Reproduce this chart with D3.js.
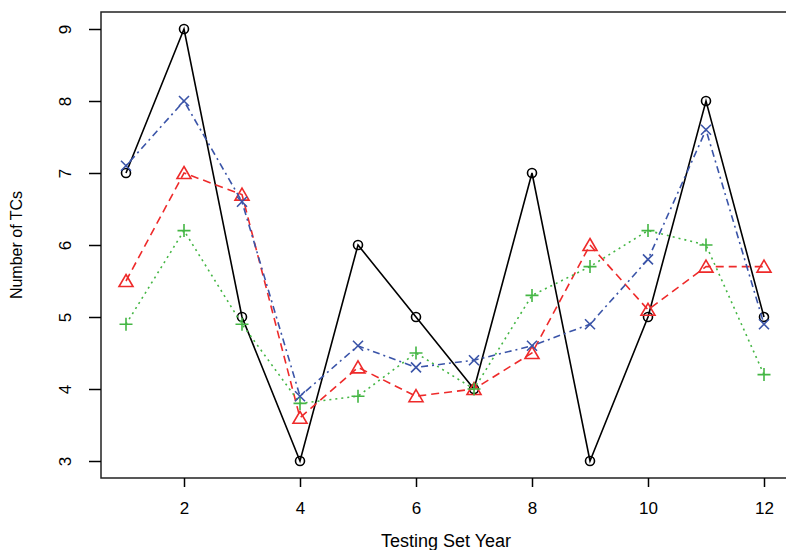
<!DOCTYPE html>
<html><head><meta charset="utf-8">
<script src="https://cdn.jsdelivr.net/npm/d3@7"></script>
<style>body{margin:0;background:#fff}svg{display:block}text{font-family:"Liberation Sans",Arial,sans-serif}</style>
</head><body>
<svg id="c" width="786" height="550"></svg>
<script>
const years = [1,2,3,4,5,6,7,8,9,10,11,12];
const observed = [7,9,5,3,6,5,4,7,3,5,8,5];
const modelBlue = [7.1,8,6.6,3.9,4.6,4.3,4.4,4.6,4.9,5.8,7.6,4.9];
const modelRed = [5.5,7,6.7,3.6,4.3,3.9,4.0,4.5,6.0,5.1,5.7,5.7];
const modelGreen = [4.9,6.2,4.9,3.8,3.9,4.5,4.0,5.3,5.7,6.2,6.0,4.2];
const xTicks = [2,4,6,8,10,12];
const yTicks = [3,4,5,6,7,8,9];

const svg = d3.select("#c");
const x = d3.scaleLinear().domain([2,12]).range([184,764]);
const y = d3.scaleLinear().domain([3,9]).range([461,29]);
const L = 101, T = 12, B = 478, R = 792;

svg.append("path").attr("d",`M${R},${T}H${L}V${B}H${R}`).attr("fill","none").attr("stroke","#222").attr("stroke-width",1.5);

const ya = svg.append("g").attr("transform",`translate(${L},0)`)
  .call(d3.axisLeft(y).tickValues(yTicks).tickSize(12).tickPadding(0).tickFormat(d3.format("d")));
ya.select(".domain").remove();
ya.selectAll("line").attr("stroke","#000").attr("stroke-width",1.5);
ya.selectAll("text").attr("font-size",17).attr("fill","#000")
  .attr("transform",d=>`translate(-36,0) rotate(-90)`).attr("x",0).attr("y",0).attr("dy","0.35em").attr("text-anchor","middle");

const xa = svg.append("g").attr("transform",`translate(0,${B})`)
  .call(d3.axisBottom(x).tickValues(xTicks).tickSize(9).tickPadding(0).tickFormat(d3.format("d")));
xa.select(".domain").remove();
xa.selectAll("line").attr("stroke","#000").attr("stroke-width",1.5);
xa.selectAll("text").attr("font-size",17).attr("fill","#000").attr("y",30).attr("dy","0.35em");

svg.append("text").attr("x",446).attr("y",547).attr("text-anchor","middle").attr("font-size",18).text("Testing Set Year");
svg.append("text").attr("transform","translate(22,245) rotate(-90)").attr("text-anchor","middle").attr("font-size",16).text("Number of TCs");

const series = [
  {v:observed, c:"#000", dash:null, m:"circle"},
  {v:modelRed, c:"#ee2a2a", dash:"8,5", m:"tri"},
  {v:modelGreen, c:"#44b644", dash:"2,4", m:"plus"},
  {v:modelBlue, c:"#3a54a8", dash:"2,4,7,4", m:"cross"}
];
const line = d3.line().x((d,i)=>x(years[i])).y(d=>y(d));
series.forEach(s=>{
  svg.append("path").datum(s.v).attr("d",line).attr("fill","none").attr("stroke",s.c)
    .attr("stroke-width",1.6).attr("stroke-dasharray",s.dash);
  const g = svg.append("g");
  s.v.forEach((d,i)=>{
    const cx = x(years[i]), cy = y(d);
    let p;
    if (s.m==="circle") p = `M${cx+4.5},${cy}A4.5,4.5 0 1,1 ${cx-4.5},${cy}A4.5,4.5 0 1,1 ${cx+4.5},${cy}Z`;
    else if (s.m==="tri") p = `M${cx},${cy-6.5}L${cx+7},${cy+5.5}L${cx-7},${cy+5.5}Z`;
    else if (s.m==="plus") p = `M${cx-6.5},${cy}H${cx+6.5}M${cx},${cy-6.5}V${cy+6.5}`;
    else p = `M${cx-5},${cy-5}L${cx+5},${cy+5}M${cx-5},${cy+5}L${cx+5},${cy-5}`;
    g.append("path").attr("d",p).attr("fill","none").attr("stroke",s.c).attr("stroke-width",1.6);
  });
});
</script>
</body></html>
